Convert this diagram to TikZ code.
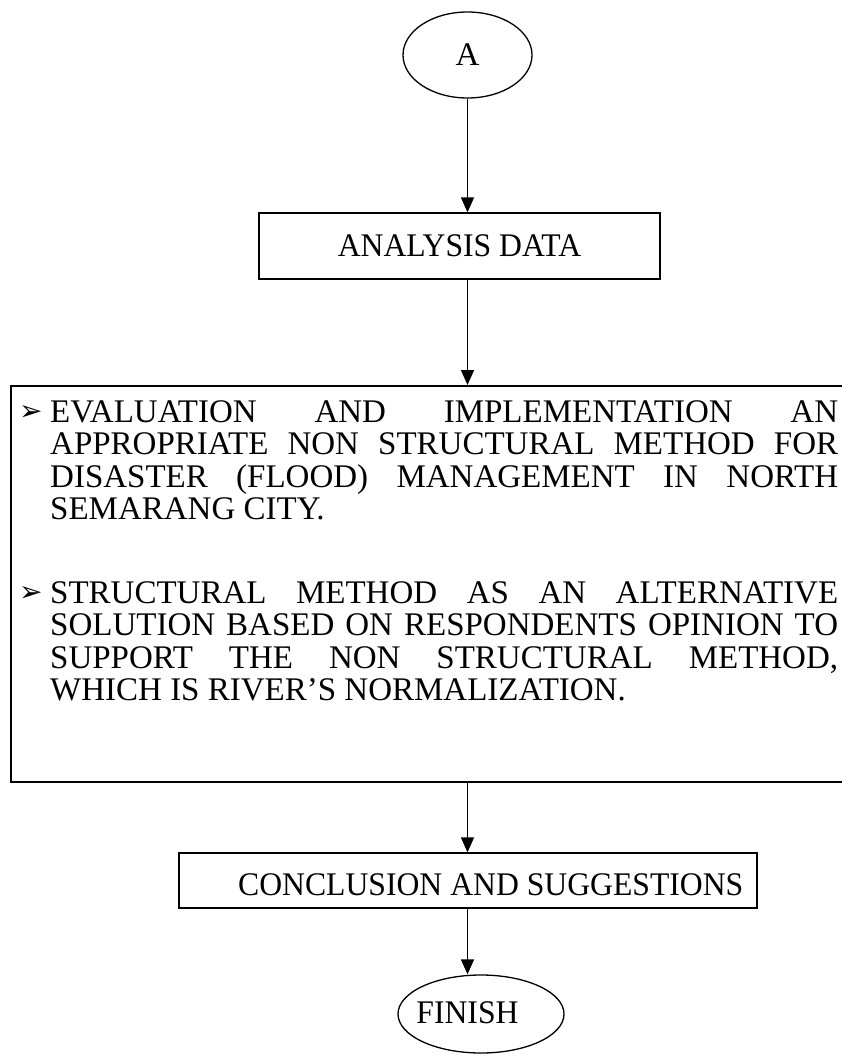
\documentclass[tikz,border=0pt]{standalone}
\usepackage{fontspec}
\setmainfont{Liberation Serif}
\newfontfamily\dejavu{DejaVu Sans}
\usetikzlibrary{arrows.meta,shapes.geometric}
\newcommand\jline[1]{\makebox[788pt][s]{#1}}
\begin{document}
\begin{tikzpicture}[x=1pt,y=-1pt,
  every node/.style={inner sep=0pt},
  shapeline/.style={draw=black, line width=1.3pt},
  flowbox/.style={shapeline, rectangle},
  flowoval/.style={shapeline, ellipse},
  arr/.style={line width=1.3pt, -{Triangle[length=15pt,width=13pt]}},
  txt/.style={font=\fontsize{33}{33}\selectfont},
  ln/.style={font=\fontsize{33}{33}\selectfont, anchor=base west},
  bul/.style={font=\dejavu\fontsize{28}{28}\selectfont, anchor=base west}]
\useasboundingbox (0,0) rectangle (841,1057);
\fill[white] (0,0) rectangle (841,1057);

% shapes
\node[flowoval, txt, minimum width=129pt, minimum height=86pt] (A) at (467.5,55) {A};
\node[flowbox, txt, minimum width=401pt, minimum height=66pt] (ana) at (459.5,246) {\scalebox{0.96}[1]{ANALYSIS DATA}};
\node[flowbox, line width=2pt, minimum width=839pt, minimum height=396pt] (big) at (430.5,584) {};
\node[flowbox, minimum width=578pt, minimum height=55pt] (conc) at (468,880.5) {};
\node[ln] (conctxt) at (238,895) {\scalebox{0.96}[1]{CONCLUSION AND SUGGESTIONS}};
\node[flowoval, minimum width=166pt, minimum height=78pt] (fin) at (481,1014) {};
\node[txt, anchor=base] (fintxt) at (467.5,1023) {\scalebox{0.96}[1]{FINISH}};

% bullet 1
\node[bul] (b1) at (19,420.5) {➢};
\node[ln] (l11) at (50,422) {\jline{EVALUATION AND IMPLEMENTATION AN}};
\node[ln] (l12) at (50,454.5) {\jline{APPROPRIATE NON STRUCTURAL METHOD FOR}};
\node[ln] (l13) at (50,487) {\jline{DISASTER (FLOOD) MANAGEMENT IN NORTH}};
\node[ln] (l14) at (50,519.5) {SEMARANG CITY.};

% bullet 2
\node[bul] (b2) at (19,601.5) {➢};
\node[ln] (l21) at (50,603) {\jline{STRUCTURAL METHOD AS AN ALTERNATIVE}};
\node[ln] (l22) at (50,635.5) {\jline{SOLUTION BASED ON RESPONDENTS OPINION TO}};
\node[ln] (l23) at (50,668) {\jline{SUPPORT THE NON STRUCTURAL METHOD,}};
\node[ln] (l24) at (50,700.5) {WHICH IS RIVER’S NORMALIZATION.};

% connectors
\coordinate (ax) at (467.5,0);
\draw[arr] (A.south) -- (ax |- ana.north);
\draw[arr] (ax |- ana.south) -- (ax |- big.north);
\draw[arr] (ax |- big.south) -- (ax |- conc.north);
\draw[arr] (ax |- conc.south) -- (ax |- fin.north);
\end{tikzpicture}
\end{document}
